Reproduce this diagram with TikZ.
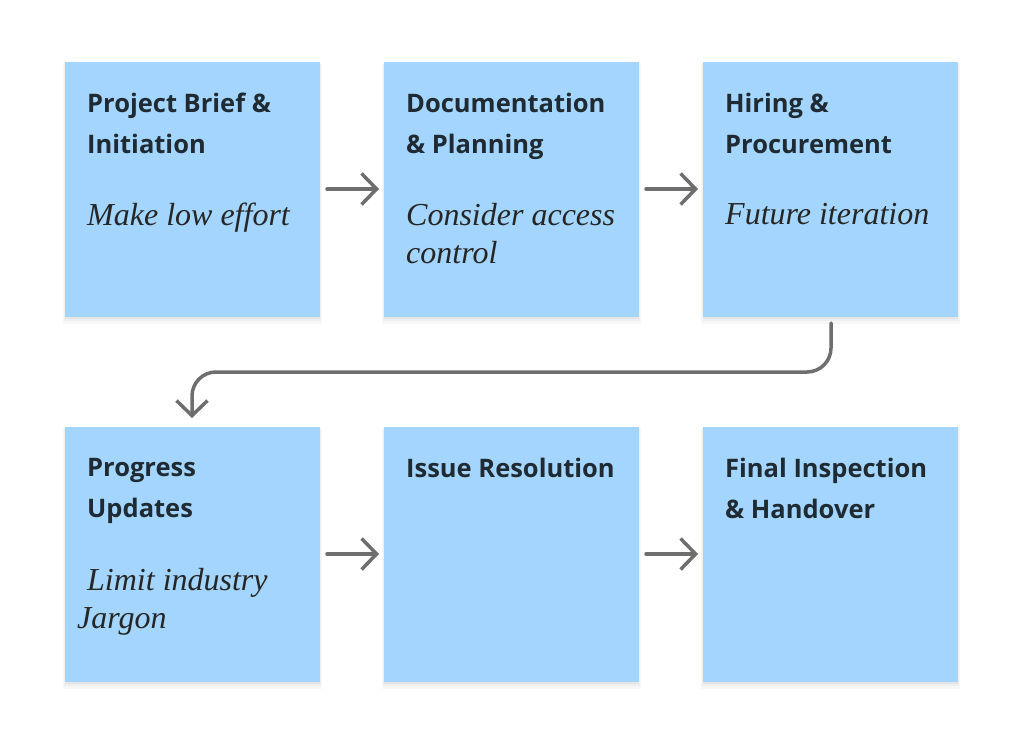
\documentclass[tikz,border=0pt]{standalone}
\usepackage{fontspec}
\setmainfont{Open Sans}
\newfontfamily\handfont{Liberation Serif}
\usetikzlibrary{arrows.meta}
\definecolor{boxblue}{HTML}{A3D5FE}
\definecolor{titlecol}{HTML}{1F2A33}
\definecolor{arrowgray}{HTML}{6E6E6E}
\tikzset{
  card/.style={fill=boxblue, draw=none, minimum width=255pt, minimum height=255pt, inner sep=0pt, anchor=north west},
  ttl/.style={anchor=north west, align=left, text=titlecol, font=\fontsize{25.5}{41}\selectfont\bfseries, inner sep=0pt},
  note/.style={anchor=north west, align=left, text=black!85, font=\handfont\itshape\fontsize{32}{38}\selectfont, inner sep=0pt},
  flow/.style={draw=arrowgray, line width=3.5pt, line cap=round, line join=round, -{Straight Barb[length=15pt,width=31pt,line width=3.5pt]}},
}
\newcommand{\cardshadow}[2]{%
  \fill[black,opacity=0.03] (#1-2,#2+2) rectangle (#1+257,#2+262);
  \fill[black,opacity=0.03] (#1-1,#2+1) rectangle (#1+256,#2+259);
  \fill[black,opacity=0.04] (#1,#2+1) rectangle (#1+255,#2+257);
}
\begin{document}
\begin{tikzpicture}[x=1pt,y=-1pt]
\useasboundingbox[fill=white] (0,0) rectangle (1024,743);
\cardshadow{65}{62}\cardshadow{384}{62}\cardshadow{703}{62}
\cardshadow{65}{427}\cardshadow{384}{427}\cardshadow{703}{427}
\node[card] (c1) at (65,62) {};
\node[card] (c2) at (384,62) {};
\node[card] (c3) at (703,62) {};
\node[card] (c4) at (65,427) {};
\node[card] (c5) at (384,427) {};
\node[card] (c6) at (703,427) {};
% titles
\node[ttl] (t1) at (87,93) {Project Brief \&\\Initiation};
\node[ttl] (t2) at (406,93) {Documentation\\\& Planning};
\node[ttl] (t3) at (725,93) {Hiring \&\\Procurement};
\node[ttl] (t4) at (87,458) {Progress\\Updates};
\node[ttl] (t5) at (406,458) {Issue Resolution};
\node[ttl] (t6) at (725,458) {Final Inspection\\\& Handover};
% notes
\node[note] (n1) at (87,203) {Make low effort};
\node[note] (n2) at (406,203) {Consider access\\control};
\node[note] (n3) at (725,203) {Future iteration};
\node[note] (n4) at (77,568) {\hspace*{10pt}Limit industry\\Jargon};
% connectors
\coordinate (a1s) at (327,189); \coordinate (a1e) at (379,189);
\coordinate (a2s) at (646,189); \coordinate (a2e) at (698,189);
\coordinate (a4s) at (327,554); \coordinate (a4e) at (379,554);
\coordinate (a5s) at (646,554); \coordinate (a5e) at (698,554);
\draw[flow] (a1s) -- (a1e);
\draw[flow] (a2s) -- (a2e);
\draw[flow] (a4s) -- (a4e);
\draw[flow] (a5s) -- (a5e);
\coordinate (b1) at (831,323);
\coordinate (b2) at (192,418);
\draw[flow, rounded corners=24pt] (b1) -- (831,372) -- (192,372) -- (b2);
\end{tikzpicture}
\end{document}
